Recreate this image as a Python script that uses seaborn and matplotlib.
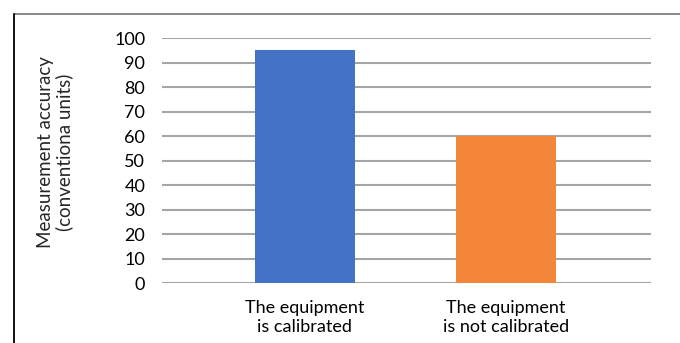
import matplotlib
matplotlib.use("Agg")
import matplotlib.pyplot as plt
import seaborn as sns
import pandas as pd
from matplotlib.lines import Line2D

categories = ["The equipment\nis calibrated", "The equipment\nis not calibrated"]
accuracy = [95, 60]
colors = ["#4472C4", "#F4863A"]
yticks = [0, 10, 20, 30, 40, 50, 60, 70, 80, 90, 100]

df = pd.DataFrame({"state": categories, "accuracy": accuracy})

sns.set_theme(style="white")
plt.rcParams["font.family"] = ["Lato", "DejaVu Sans"]

fig = plt.figure(figsize=(6.8, 3.43), dpi=100)
ax = fig.add_axes([0.2382, 0.1735, 0.719, 0.7155])

sns.barplot(data=df, x="state", y="accuracy", hue="state", palette=colors,
            width=0.5, saturation=1, legend=False, ax=ax, zorder=3,
            linewidth=0)

ax.set_ylim(0, 100)
ax.set_xlim(-0.71, 1.72)
ax.set_yticks(yticks)
ax.yaxis.grid(True, color="#A5A5A5", linewidth=1.5, zorder=0)
ax.set_axisbelow(True)
for s in ax.spines.values():
    s.set_visible(False)
ax.tick_params(axis="both", length=0, labelsize=13, colors="#000000")
ax.tick_params(axis="y", pad=12)
ax.tick_params(axis="x", pad=12)
for lbl in ax.get_xticklabels():
    lbl.set_linespacing(1.2)
ax.set_xlabel("")
ax.set_ylabel("Measurement accuracy\n(conventiona units)", fontsize=13.5, linespacing=1.05)
ax.yaxis.set_label_coords(-0.182, 0.536)

# outer frame (cropped on the right and bottom)
fig.add_artist(Line2D([13.5 / 680, 1.0], [1 - 14.3 / 343] * 2, color="#7F7F7F", lw=1.3))
fig.add_artist(Line2D([13.5 / 680] * 2, [0.0, 1 - 14.3 / 343], color="#000000", lw=1.3))

fig.savefig("out.png", dpi=100)
